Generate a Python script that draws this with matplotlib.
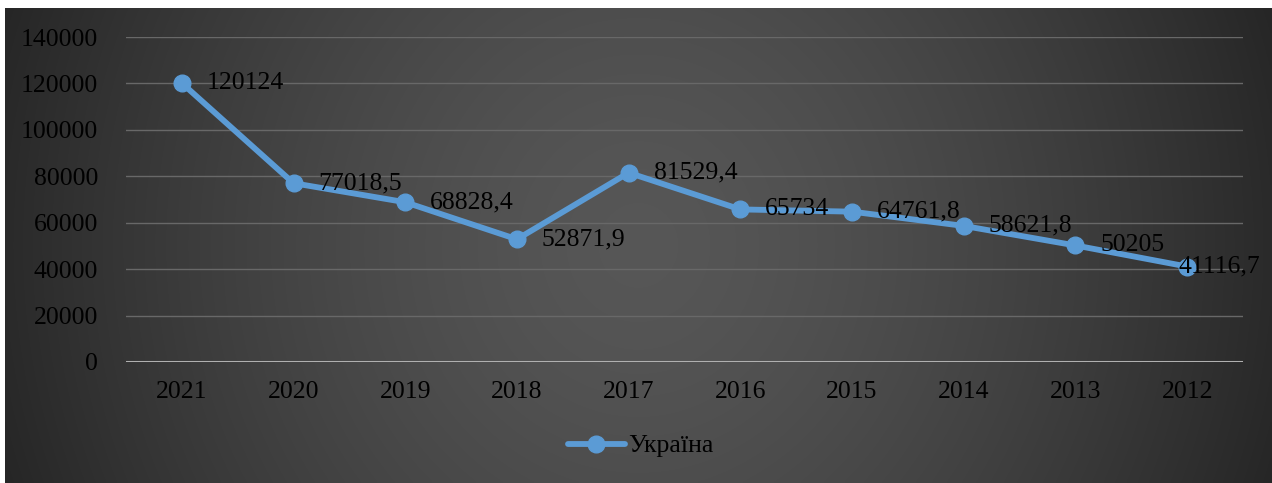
import numpy as np
import matplotlib
matplotlib.use("Agg")
import matplotlib.pyplot as plt
from matplotlib.lines import Line2D

years = ["2021", "2020", "2019", "2018", "2017", "2016", "2015", "2014", "2013", "2012"]
values = [120124, 77018.5, 68828.4, 52871.9, 81529.4, 65734, 64761.8, 58621.8, 50205, 41116.7]
labels = ["120124", "77018,5", "68828,4", "52871,9", "81529,4", "65734", "64761,8", "58621,8", "50205", "41116,7"]
series_name = "Україна"
yticks = [0, 20000, 40000, 60000, 80000, 100000, 120000, 140000]

W, H = 1272, 483
plt.rcParams['font.family'] = ['Liberation Serif', 'DejaVu Serif']
fig = plt.figure(figsize=(W/100, H/100), dpi=100)
fig.patch.set_facecolor('white')

# background radial gradient
bg = fig.add_axes([5/W, 0, (W-5)/W, (H-8)/H], zorder=-5)
nx, ny = 400, 150
xx, yy = np.meshgrid(np.linspace(-1, 1, nx), np.linspace(-1, 1, ny))
r = np.sqrt(xx**2 + (0.35*yy)**2) / np.sqrt(1 + 0.35**2)
c_center = np.array([0.34, 0.34, 0.34])
c_edge = np.array([0.15, 0.15, 0.15])
t = (np.clip(r, 0, 1)**1.5)[..., None]
img = c_center * (1 - t) + c_edge * t
bg.imshow(img, aspect='auto', extent=[0, 1, 0, 1], interpolation='bilinear')
bg.set_axis_off()

left, right = 126/W, 1243/W
bottom = (H-362)/H
top = (H-37)/H
ax = fig.add_axes([left, bottom, right-left, top-bottom])
ax.patch.set_alpha(0)
x = np.arange(len(years))
ax.set_xlim(-0.5, len(years)-0.5)
ax.set_ylim(0, 140000)
ax.set_yticks(yticks)
ax.set_yticklabels([str(v) for v in yticks])
ax.set_xticks(x)
ax.set_xticklabels(years)
for s in ax.spines.values():
    s.set_visible(False)
ax.grid(axis='y', color='#686868', linewidth=1.0)
ax.set_axisbelow(True)
ax.axhline(0, color='#b0b0b0', linewidth=2.2, zorder=2)
ax.tick_params(axis='both', length=0, labelsize=18.5, colors='black')
ax.tick_params(axis='y', pad=20)
ax.tick_params(axis='x', pad=14)

color = '#5b9bd5'
ax.plot(x, values, color=color, linewidth=4.2, marker='o', markersize=12,
        markerfacecolor=color, markeredgecolor=color, zorder=3, solid_capstyle='round')

for i, (xi, v, lab) in enumerate(zip(x, values, labels)):
    dx = 18 if i < len(values)-1 else -6
    ax.annotate(lab, (xi, v), xytext=(dx, 0), textcoords='offset points',
                ha='left', va='center', fontsize=18.5, color='black', zorder=4)

handle = Line2D([0], [0], color=color, linewidth=4.2, marker='o', markersize=12,
                markerfacecolor=color, markeredgecolor=color, solid_capstyle='round')
fig.legend([handle], [series_name], loc='center', bbox_to_anchor=(641/W, (H-446)/H),
           frameon=False, fontsize=18.5, handlelength=2.2, handletextpad=0.15)

fig.savefig('out.png', dpi=100)
